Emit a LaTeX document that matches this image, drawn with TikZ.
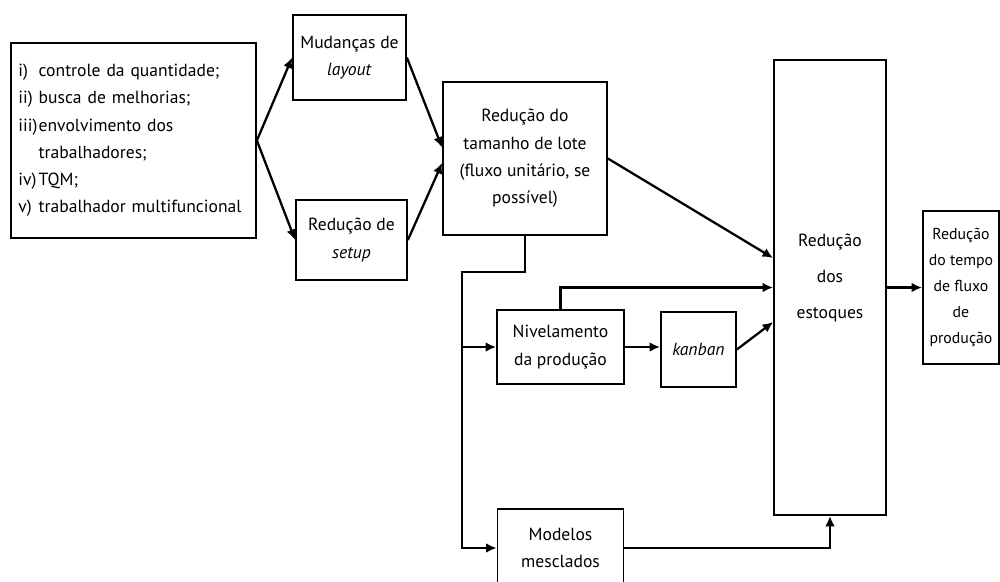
\documentclass[tikz,border=0pt]{standalone}
\usepackage{fontspec}
\setmainfont{PT Sans}
\usetikzlibrary{arrows.meta, positioning}

\newcommand{\rotulo}[1]{\makebox[1.15em][l]{#1}}

\begin{document}
\begin{tikzpicture}[node distance=2.5cm, >={Latex[length=6pt,width=5.5pt]}]
	\tikzstyle{caixa}=[draw, line width=1pt, align=center, inner sep=2pt, font=\fontsize{10}{15.5}\selectfont]
	\tikzstyle{seta}=[->, line width=1.3pt]

	\useasboundingbox (0,0) rectangle (20,-11.62);

    \node [caixa, minimum width=4.9cm, minimum height=3.9cm, text width=4.6cm, align=left] (lista) at (2.67,-2.81)
        {\rotulo{i)}controle da quantidade;\\
         \rotulo{ii)}busca de melhorias;\\
         \rotulo{iii)}envolvimento dos\\
         \rotulo{}trabalhadores;\\
         \rotulo{iv)}TQM;\\
         \rotulo{v)}trabalhador multifuncional};
    \node [caixa, minimum width=2.26cm, minimum height=1.7cm] (mud) [right of=lista, node distance=4.32cm, yshift=1.66cm] {Mudanças de\\\textit{layout}};
    \node [caixa, minimum width=2.22cm, minimum height=1.6cm] (setup) [right of=lista, node distance=4.36cm, yshift=-1.99cm] {Redução de\\\textit{setup}};
    \node [caixa, minimum width=3.28cm, minimum height=3.06cm] (lote) [right of=lista, node distance=7.83cm, yshift=-0.36cm] {Redução do\\tamanho de lote\\(fluxo unitário, se\\possível)};
    \node [caixa, minimum width=2.24cm, minimum height=9.1cm, font=\fontsize{10}{20.5}\selectfont] (estoques) [right of=lote, node distance=6.1cm, yshift=-2.58cm] {Redução\\dos\\estoques\\[-8pt]\mbox{}};
    \node [caixa, minimum width=1.52cm, minimum height=3.06cm, inner sep=1pt, font=\fontsize{9}{14.7}\selectfont] (tempo) [right of=estoques, node distance=2.62cm] {Redução\\do tempo\\de fluxo\\de\\produção};
    \node [caixa, minimum width=2.54cm, minimum height=1.48cm] (nivel) [below of=lote, node distance=3.77cm, xshift=0.71cm] {Nivelamento\\da produção};
    \node [caixa, minimum width=1.5cm, minimum height=1.5cm] (kanban) [right of=nivel, node distance=2.76cm, yshift=-0.05cm] {\textit{kanban}};
    \node [caixa, minimum width=2.52cm, minimum height=1.56cm] (modelos) [below of=nivel, node distance=4.02cm] {Modelos\\mesclados};

    \coordinate (desvio) at ([yshift=-2.27cm]lote.center);
    \coordinate (tronco) at ([xshift=-1.26cm]desvio);

    \draw [seta] (lista.east) -- (mud.west);
    \draw [seta] (lista.east) -- (setup.west);
    \draw [seta] (mud.east) -- ([yshift=0.22cm]lote.west);
    \draw [seta] (setup.east) -- ([yshift=-0.09cm]lote.west);
    \draw [seta] (lote.east) -- ([yshift=0.59cm]estoques.west);
    \draw [seta] (lote.south) -- (desvio) -- (tronco) |- (modelos.west);
    \draw [seta] (tronco |- nivel.west) -- (nivel.west);
    \draw [seta] (nivel.north) |- (estoques.west);
    \draw [seta] (nivel.east) -- (nivel.east -| kanban.west);
    \draw [seta] (kanban.east) -- ([yshift=-0.69cm]estoques.west);
    \draw [seta] (modelos.east) -| (estoques.south);
    \draw [seta] (estoques.east) -- (estoques.east -| tempo.west);
\end{tikzpicture}
\end{document}
